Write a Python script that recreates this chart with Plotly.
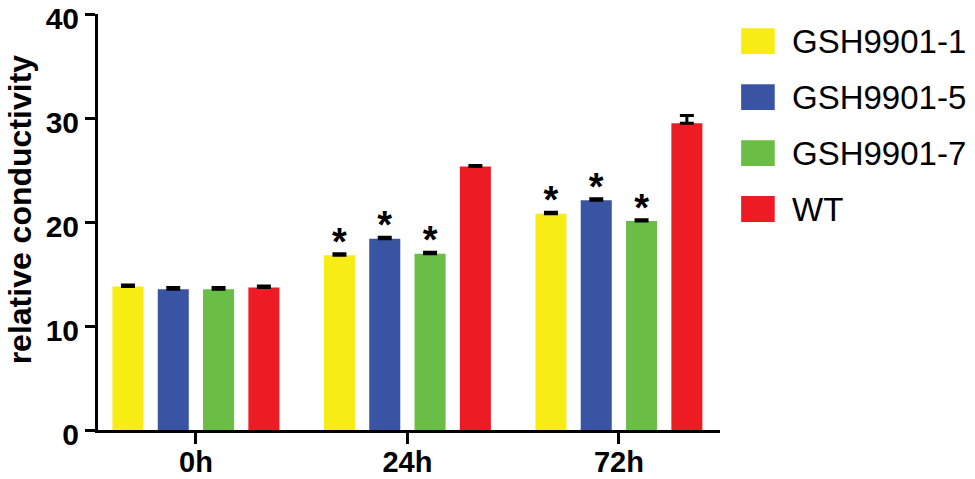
import plotly.graph_objects as go

# data
timepoints = ["0h", "24h", "72h"]
series_names = ["GSH9901-1", "GSH9901-5", "GSH9901-7", "WT"]
gsh1_mean = [13.8, 16.8, 20.8]
gsh5_mean = [13.55, 18.4, 22.1]
gsh7_mean = [13.55, 16.95, 20.1]
wt_mean = [13.7, 25.35, 29.5]
gsh1_err = [0.15, 0.15, 0.15]
gsh5_err = [0.15, 0.15, 0.15]
gsh7_err = [0.15, 0.15, 0.12]
wt_err = [0.15, 0.1, 0.75]
# significance marks
gsh1_sig = ["", "*", "*"]
gsh5_sig = ["", "*", "*"]
gsh7_sig = ["", "*", "*"]
wt_sig = ["", "", ""]

colors = ["#F7EC13", "#3A54A4", "#6ABD45", "#ED1C24"]
means = [gsh1_mean, gsh5_mean, gsh7_mean, wt_mean]
errs = [gsh1_err, gsh5_err, gsh7_err, wt_err]
sigs = [gsh1_sig, gsh5_sig, gsh7_sig, wt_sig]

FONT = "Liberation Sans, Arial, sans-serif"
STAR_PAD = 0.8  # gap between error cap and asterisk, in axis units

fig = go.Figure()

for i, name in enumerate(series_names):
    fig.add_trace(
        go.Bar(
            x=timepoints,
            y=means[i],
            name=name,
            offsetgroup=str(i),
            marker=dict(color=colors[i], line=dict(width=0)),
            error_y=dict(
                type="data",
                symmetric=False,
                array=errs[i],
                arrayminus=[0] * len(errs[i]),
                color="black",
                thickness=3,
                width=7,
            ),
            showlegend=False,
        )
    )

# asterisks above the bars, grouped the same way as the bars
for i, name in enumerate(series_names):
    tops = [m + e + STAR_PAD for m, e in zip(means[i], errs[i])]
    fig.add_trace(
        go.Scatter(
            x=timepoints,
            y=tops,
            mode="text",
            text=sigs[i],
            textposition="middle center",
            textfont=dict(family=FONT, size=38, color="black", weight="bold"),
            offsetgroup=str(i),
            showlegend=False,
            hoverinfo="skip",
            cliponaxis=False,
        )
    )

# legend drawn by hand to get the large swatches
y_first = 0.935
y_step = 0.1346
for i, name in enumerate(series_names):
    yc = y_first - i * y_step
    fig.add_shape(
        type="rect",
        xref="paper",
        yref="paper",
        x0=1.034,
        x1=1.088,
        y0=yc - 0.031,
        y1=yc + 0.031,
        fillcolor=colors[i],
        line=dict(width=0),
    )
    fig.add_annotation(
        xref="paper",
        yref="paper",
        x=1.112,
        y=yc,
        text=name,
        showarrow=False,
        xanchor="left",
        yanchor="middle",
        font=dict(family=FONT, size=33, color="black"),
    )

# y axis title as a rotated annotation (sits a bit above the axis centre)
fig.add_annotation(
    xref="paper",
    yref="paper",
    x=-0.125,
    y=0.531,
    text="relative conductivity",
    textangle=-90,
    showarrow=False,
    xanchor="center",
    yanchor="middle",
    font=dict(family=FONT, size=32, color="black", weight="bold"),
)

fig.update_layout(
    width=975,
    height=479,
    margin=dict(l=98, r=255, t=14, b=49),
    barmode="group",
    bargap=0.143,
    bargroupgap=0.315,
    scattermode="group",
    scattergap=0.143,
    plot_bgcolor="white",
    paper_bgcolor="white",
    font=dict(family=FONT, color="black"),
    xaxis=dict(
        range=[-0.463, 2.478],
        automargin=False,
        showline=True,
        linecolor="black",
        linewidth=3,
        ticks="outside",
        ticklen=11,
        tickwidth=3,
        tickcolor="black",
        ticklabelstandoff=-7,
        tickfont=dict(family=FONT, size=29, color="black", weight="bold"),
        showgrid=False,
        zeroline=False,
    ),
    yaxis=dict(
        range=[0, 40.02],
        automargin=False,
        tickvals=[0, 10, 20, 30, 40],
        ticklabeloverflow="allow",
        ticklabelshift=4,
        showline=True,
        linecolor="black",
        linewidth=3,
        ticks="outside",
        ticklen=10,
        tickwidth=3,
        tickcolor="black",
        tickfont=dict(family=FONT, size=30, color="black", weight="bold"),
        showgrid=False,
        zeroline=False,
    ),
)

fig.write_html(
    "out.html",
    config={"displayModeBar": False},
    post_script="document.body.style.margin='0';",
)
